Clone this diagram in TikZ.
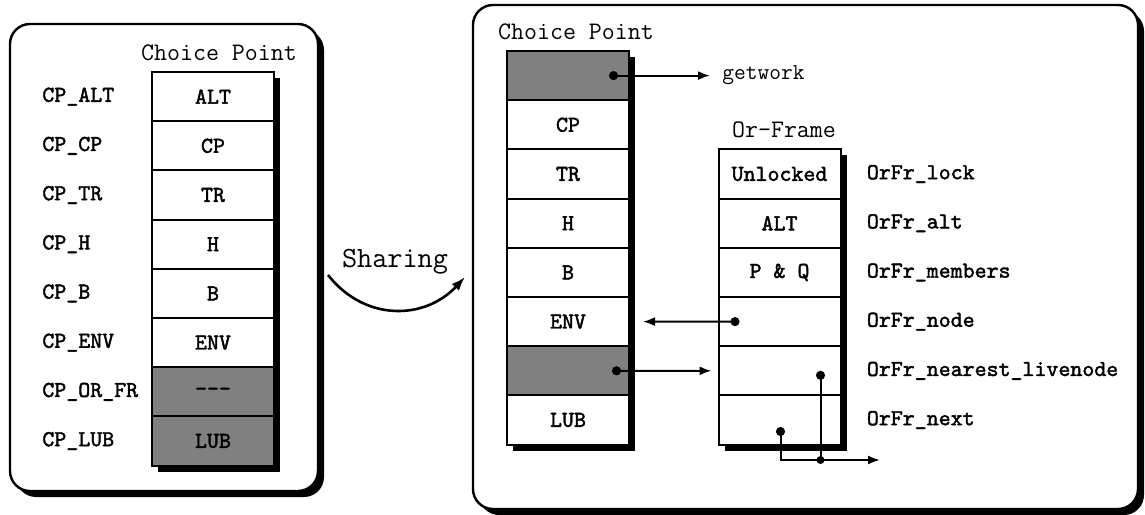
\documentclass[tikz,border=0pt]{standalone}
\usepackage{fontspec}
\newfontfamily\heavytt{lmmono10-regular.otf}[FakeBold=1.8]
\usetikzlibrary{positioning,calc,arrows.meta,shadows}

\tikzset{
  cell/.style={draw, line width=1pt, fill=white, outer sep=0pt, inner sep=0pt,
    minimum width=61pt, minimum height=24.6pt,
    drop shadow={opacity=1, fill=black, shadow xshift=3pt, shadow yshift=-3pt},
    font=\heavytt\fontsize{11.4}{13}\selectfont},
  dark/.style={cell, fill=black!50},
  field/.style={anchor=west, inner sep=0pt, font=\heavytt\fontsize{11.4}{13}\selectfont},
  title/.style={font=\ttfamily\fontsize{12.6}{15}\selectfont},
  panel/.style={draw, line width=1.2pt, fill=white, rounded corners=10pt,
    drop shadow={opacity=1, fill=black, shadow xshift=3pt, shadow yshift=-3pt}},
  ptr/.style={line width=1pt, {Circle[length=4.5pt]}-{Latex[length=6pt,width=4.5pt]}},
}

\begin{document}
\begin{tikzpicture}[x=0.5pt, y=-0.5pt, node distance=0pt]
\useasboundingbox (0,0) rectangle (1145,514);

% the two frames
\draw[panel] (10,24) rectangle (318,491);
\draw[panel] (473,5) rectangle (1138,509);

% choice point before sharing
\node[title] at (219,53) {Choice Point};
\node[cell] (a1) at (213,96.6) {ALT};
\node[cell, below=of a1] (a2) {CP};
\node[cell, below=of a2] (a3) {TR};
\node[cell, below=of a3] (a4) {H};
\node[cell, below=of a4] (a5) {B};
\node[cell, below=of a5] (a6) {ENV};
\node[dark, below=of a6] (a7) {---};
\node[dark, below=of a7] (a8) {LUB};
\foreach \n/\t in {1/CP\_ALT, 2/CP\_CP, 3/CP\_TR, 4/CP\_H, 5/CP\_B, 6/CP\_ENV, 7/CP\_OR\_FR, 8/CP\_LUB}
  \node[field] (la\n) at (42,0 |- a\n) {\t};

% sharing
\coordinate (shA) at (328,275);
\coordinate (shB) at (465,277);
\draw[line width=1.3pt, -{Latex[length=7pt,width=5pt]}] (shA) .. controls (365,322) and (425,320) .. (shB);
\node[font=\ttfamily\fontsize{14.7}{17}\selectfont] (sh) at (395,262) {Sharing};

% choice point after sharing
\node[title] at (576,32) {Choice Point};
\node[dark] (b1) at (568,75.6) {};
\node[cell, below=of b1] (b2) {CP};
\node[cell, below=of b2] (b3) {TR};
\node[cell, below=of b3] (b4) {H};
\node[cell, below=of b4] (b5) {B};
\node[cell, below=of b5] (b6) {ENV};
\node[dark, below=of b6] (b7) {};
\node[cell, below=of b7] (b8) {LUB};

% or-frame
\node[title] at (784,130) {Or-Frame};
\node[cell] (f1) at (779.5,174) {Unlocked};
\node[cell, below=of f1] (f2) {ALT};
\node[cell, below=of f2] (f3) {P \& Q};
\node[cell, below=of f3] (f4) {};
\node[cell, below=of f4] (f5) {};
\node[cell, below=of f5] (f6) {};
\foreach \n/\t in {1/lock, 2/alt, 3/members, 4/node, 5/nearest\_livenode, 6/next}
  \node[field, right=13pt of f\n] (of\n) {OrFr\_\t};

% pointers
\node[field, font=\ttfamily\fontsize{11.4}{13}\selectfont, right=46.5pt of b1] (gw) {getwork};
\draw[ptr] ($(b1.east)+(-20,0)$) -- ($(gw.west)+(-12,0)$);
\draw[ptr] ($(f4.west)+(21,0)$) -- ($(b6.east)+(14,0)$);
\draw[ptr] ($(b7.east)+(-17,0)$) -- ($(f5.west)+(-7,0)$);

\coordinate (nl) at ($(f5.east)+(-20,0)$);
\coordinate (nx) at ($(f6.center)+(1,7)$);
\coordinate (out) at (880,460);
\draw[line width=1pt, {Circle[length=4.5pt]}-] (nl) -- (nl |- out);
\draw[ptr] (nx) -- (nx |- out) -- (out);
\fill (nl |- out) circle (4);
\end{tikzpicture}
\end{document}
